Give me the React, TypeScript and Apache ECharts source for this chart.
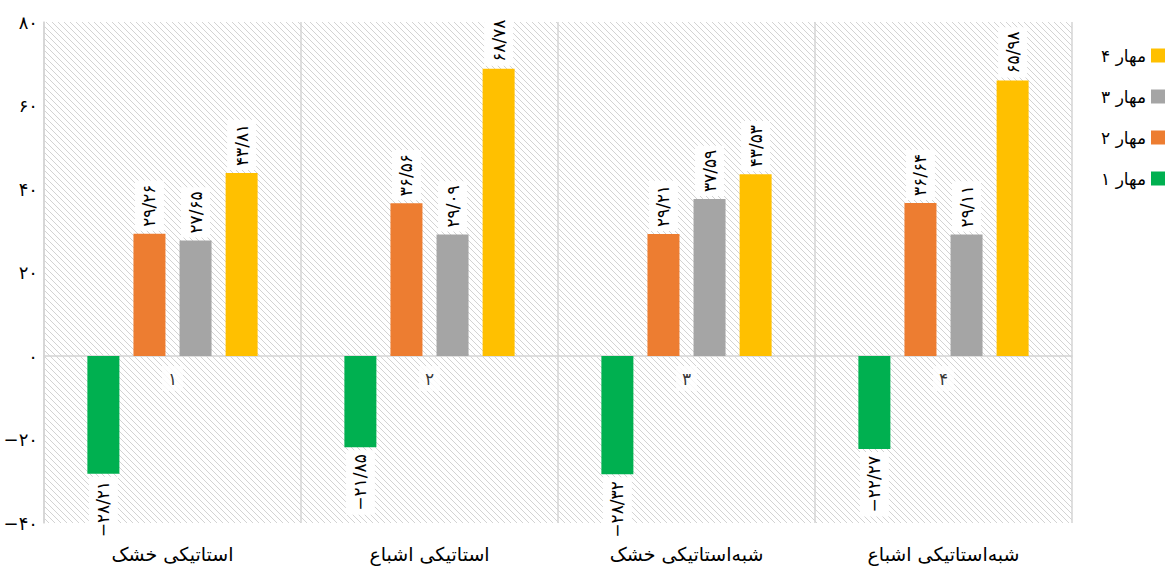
import React, { useEffect, useRef } from "react";
import * as echarts from "echarts";

const categories = ["استاتیکی خشک", "استاتیکی اشباع", "شبه‌استاتیکی خشک", "شبه‌استاتیکی اشباع"];
const groupNumbers = ["۱", "۲", "۳", "۴"];
const seriesNames = ["مهار ۱", "مهار ۲", "مهار ۳", "مهار ۴"];
const mahar1 = [-28.21, -21.85, -28.32, -22.27];
const mahar2 = [29.26, 36.56, 29.21, 36.64];
const mahar3 = [27.65, 29.09, 37.59, 29.11];
const mahar4 = [43.81, 68.78, 43.53, 65.98];
const seriesColors = ["#00b050", "#ed7d31", "#a5a5a5", "#ffc000"];
const yMin = -40;
const yMax = 80;
const yInterval = 20;

const FONT = "DejaVu Sans";
const faDigits = "۰۱۲۳۴۵۶۷۸۹";
const toFa = (s: string) => s.replace(/[0-9]/g, (d) => faDigits[+d]);
const fmtValue = (v: number) => (v < 0 ? "−" : "") + toFa(Math.abs(v).toFixed(2)).replace(".", "/");
const fmtAxis = (v: number) => (v < 0 ? "−" : "") + toFa(String(Math.abs(v)));

const hatchSvg =
  "<svg xmlns='http://www.w3.org/2000/svg' width='6' height='6'>" +
  "<rect width='6' height='6' fill='#ffffff'/>" +
  "<path d='M-1,-1 L7,7 M-1,5 L1,7 M5,-1 L7,1' stroke='#d3d3d3' stroke-width='1'/></svg>";
const hatchUrl = "data:image/svg+xml;charset=utf-8," + encodeURIComponent(hatchSvg);

export default function App() {
  const ref = useRef<HTMLDivElement>(null);
  useEffect(() => {
    document.body.style.margin = "0";
    const chart = echarts.init(ref.current!, null, { renderer: "svg" });
    const allValues = [mahar1, mahar2, mahar3, mahar4];
    const grid = { left: 44, right: 100, top: 22, bottom: 52 };
    chart.setOption({
      animation: false,
      backgroundColor: "#ffffff",
      textStyle: { fontFamily: FONT },
      grid: [
        {
          ...grid,
          show: true,
          borderWidth: 0,
          backgroundColor: { image: hatchUrl, repeat: "repeat", imageWidth: 6, imageHeight: 6 },
        },
        { ...grid, show: false },
      ],
      legend: {
        orient: "vertical",
        right: 2,
        top: 42,
        align: "right",
        itemWidth: 14,
        itemHeight: 14,
        itemGap: 24,
        icon: "rect",
        data: [...seriesNames].reverse(),
        textStyle: { fontSize: 17, color: "#000", fontFamily: FONT },
      },
      xAxis: [
        {
          type: "category",
          gridIndex: 0,
          data: groupNumbers,
          position: "bottom",
          axisLine: { show: true, onZero: true, lineStyle: { color: "#d4d4d4", width: 1.5 } },
          axisTick: { show: false },
          axisLabel: { show: false },
          splitLine: { show: true, interval: 0, lineStyle: { color: "#d4d4d4", width: 1.5 } },
          z: 3,
        },
        {
          type: "category",
          gridIndex: 1,
          data: categories,
          position: "bottom",
          axisLine: { show: false, onZero: false },
          axisTick: { show: false },
          axisLabel: { margin: 21, fontSize: 19, color: "#000", fontFamily: FONT },
          splitLine: { show: false },
        },
      ],
      yAxis: [
        {
          type: "value",
          gridIndex: 0,
          min: yMin,
          max: yMax,
          interval: yInterval,
          axisLine: { show: true, lineStyle: { color: "#d4d4d4", width: 1.5 } },
          axisTick: { show: false },
          splitLine: { show: false },
          axisLabel: { margin: 6, fontSize: 18, color: "#000", fontFamily: FONT, formatter: fmtAxis },
        },
        {
          type: "value",
          gridIndex: 1,
          min: yMin,
          max: yMax,
          interval: yInterval,
          show: false,
        },
      ],
      series: [
        ...seriesNames.map((name, i) => ({
          name,
          type: "bar",
          xAxisIndex: 0,
          yAxisIndex: 0,
          barWidth: 32,
          barGap: "44%",
          itemStyle: { color: seriesColors[i] },
          z: 4,
          data: allValues[i].map((v) => ({
            value: v,
            label: {
              show: true,
              rotate: 90,
              position: v >= 0 ? "top" : "bottom",
              align: v >= 0 ? "left" : "right",
              verticalAlign: "middle",
              distance: 3,
              fontSize: 17,
              color: "#000",
              fontFamily: FONT,
              backgroundColor: "#ffffff",
              padding: [6, 4],
              formatter: () => fmtValue(v),
            },
          })),
        })),
        {
          name: "groups",
          type: "scatter",
          xAxisIndex: 0,
          yAxisIndex: 0,
          symbolSize: 0,
          silent: true,
          z: 5,
          data: groupNumbers.map((g, i) => ({
            value: [i, 0],
            label: {
              show: true,
              position: "bottom",
              distance: 10,
              fontSize: 17,
              color: "#000",
              fontFamily: FONT,
              backgroundColor: "#ffffff",
              padding: [4, 6],
              formatter: () => g,
            },
          })),
        },
      ],
    });
    return () => chart.dispose();
  }, []);
  return <div ref={ref} style={{ width: 1172, height: 575 }} />;
}
